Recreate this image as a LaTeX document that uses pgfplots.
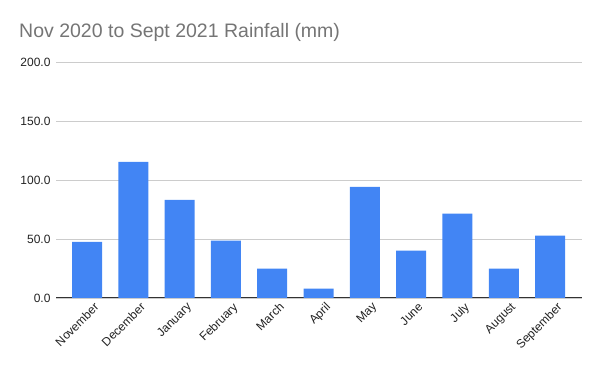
\documentclass[border=0pt]{standalone}
\usepackage{pgfplots}
\pgfplotsset{compat=1.18}
\usepackage{fontspec}
\setmainfont{Liberation Sans}
\definecolor{barblue}{HTML}{4285F4}
\definecolor{titlegray}{HTML}{757575}
\definecolor{gridgray}{HTML}{CCCCCC}
\definecolor{axisdark}{HTML}{333333}
\definecolor{ticktext}{HTML}{222222}
\begin{document}
\begin{tikzpicture}
\useasboundingbox (0,0) rectangle (600pt,371pt);
\begin{axis}[
  at={(56pt,73pt)}, anchor=south west,
  scale only axis, width=526pt, height=236pt,
  xmin=-0.67, xmax=10.69,
  ymin=0, ymax=200,
  ytick={0,50,100,150,200},
  xtick={0,...,10},
  xticklabels={November,December,January,February,March,April,May,June,July,August,September},
  axis x line=bottom, axis y line=left,
  x axis line style={-, draw=axisdark, line width=1pt},
  y axis line style={draw=none},
  major tick length=0pt,
  ymajorgrids, grid style={gridgray, line width=0.8pt},
  /pgf/number format/assume math mode=true,
  yticklabel style={/pgf/number format/fixed, /pgf/number format/fixed zerofill, /pgf/number format/precision=1,
    font=\fontsize{12}{14}\selectfont, text=ticktext, xshift=-2pt},
  xticklabel style={rotate=45, anchor=north east, font=\fontsize{12}{14}\selectfont, text=ticktext, xshift=3pt, yshift=-6pt, inner sep=1pt},
  title={Nov 2020 to Sept 2021 Rainfall (mm)},
  title style={at={(rel axis cs:-0.0703,1.127)}, anchor=west, yshift=-6pt, inner xsep=0pt, font=\fontsize{19.5}{22}\selectfont, text=titlegray},
  ybar, bar width=30pt,
  clip=false,
]
\addplot[fill=barblue, draw=none] coordinates {
(0,47.5) (1,115.3) (2,83.1) (3,48.6) (4,24.9) (5,7.9) (6,94.1) (7,40.1) (8,71.5) (9,24.9) (10,52.8)
};
\end{axis}
\end{tikzpicture}
\end{document}
